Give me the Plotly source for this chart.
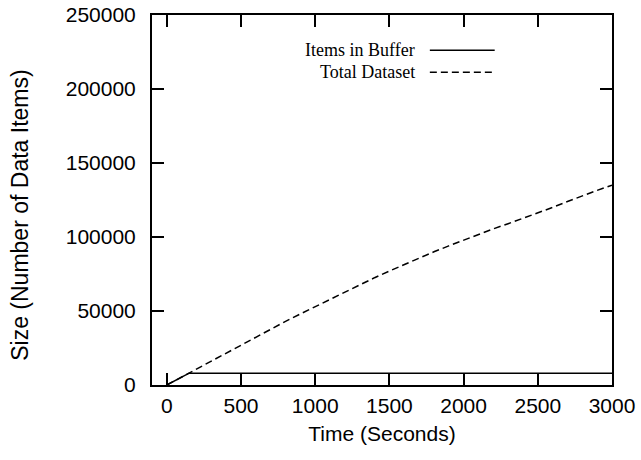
import plotly.graph_objects as go

# Time axis (seconds)
time_s = [0, 100, 200, 300, 400, 500, 600, 700, 800, 900, 1000,
          1100, 1200, 1300, 1400, 1500, 1600, 1700, 1800, 1900, 2000,
          2100, 2200, 2300, 2400, 2500, 2600, 2700, 2800, 2900, 3000]

# Cumulative number of data items seen
total_dataset = [0, 5400, 10700, 16000, 21500, 26800, 32000, 37500, 43000, 48000, 53000,
                 58000, 63000, 68000, 72500, 77000, 81500, 86000, 90000, 94000, 98000,
                 102000, 105500, 109000, 112500, 116000, 120000, 124000, 128000, 131500, 135000]

# Items held in the buffer (fills up, then stays at capacity)
buffer_time = [0, 100, 150, 3000]
buffer_items = [0, 5400, 8000, 8000]

series_names = ["Items in Buffer", "Total Dataset"]
x_ticks = [0, 500, 1000, 1500, 2000, 2500, 3000]
y_ticks = [0, 50000, 100000, 150000, 200000, 250000]

SANS = "Liberation Sans, Arial, sans-serif"
SERIF = "Liberation Serif, Times New Roman, serif"

fig = go.Figure()
fig.add_trace(go.Scatter(x=buffer_time, y=buffer_items, mode="lines",
                         name=series_names[0], showlegend=False,
                         line=dict(color="black", width=1.5)))
fig.add_trace(go.Scatter(x=time_s, y=total_dataset, mode="lines",
                         name=series_names[1], showlegend=False,
                         line=dict(color="black", width=1.5, dash="7px,4px")))

# gnuplot-style key: label text followed by a line sample
key_rows = [(0.905, "solid"), (0.845, "7px,4px")]
for name, (ypos, dash) in zip(series_names, key_rows):
    fig.add_annotation(xref="paper", yref="paper", x=0.575, y=ypos,
                       xanchor="right", yanchor="middle", showarrow=False,
                       text=name, font=dict(family=SERIF, size=18, color="black"))
    fig.add_shape(type="line", xref="paper", yref="paper",
                  x0=0.604, x1=0.745, y0=ypos, y1=ypos,
                  line=dict(color="black", width=1.5, dash=dash))

# y-axis title, placed slightly below the vertical centre of the frame
fig.add_annotation(xref="paper", yref="paper", x=-0.287, y=0.46,
                   xanchor="center", yanchor="middle", showarrow=False,
                   textangle=-90, text="Size (Number of Data Items)",
                   font=dict(family=SANS, size=23, color="black"))

axis_common = dict(showline=True, linecolor="black", linewidth=2, mirror="ticks",
                   ticks="inside", ticklen=12, tickwidth=1.5, tickcolor="black",
                   showgrid=False, zeroline=False, automargin=False,
                   tickfont=dict(family=SANS, size=21, color="black"))

fig.update_xaxes(range=[-100, 3000], tickvals=x_ticks, tickformat="d",
                 title=dict(text="Time (Seconds)", font=dict(family=SANS, size=21, color="black"),
                            standoff=10),
                 ticklabelstandoff=1, **axis_common)
fig.update_yaxes(range=[0, 250000], tickvals=y_ticks, tickformat="d",
                 ticklabelstandoff=10, **axis_common)

fig.update_layout(width=641, height=460,
                  margin=dict(l=152, r=29, t=15, b=75),
                  paper_bgcolor="white", plot_bgcolor="white")

fig.write_html("out.html")
